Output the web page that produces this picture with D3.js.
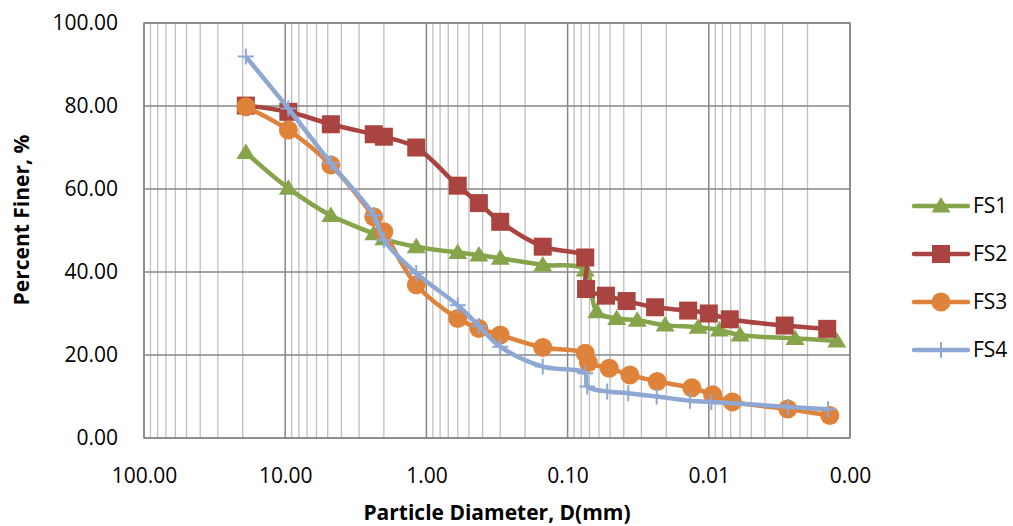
<!DOCTYPE html>
<html>
<head>
<meta charset="utf-8">
<script src="https://cdn.jsdelivr.net/npm/d3@7"></script>
<style>
  body { margin: 0; background: #fff; }
  text { font-family: "Open Sans", sans-serif; fill: #000; }
</style>
</head>
<body>
<div id="chart"></div>
<script>
// sieve + hydrometer results, particle size in mm, percent finer
const seriesNames = ["FS1", "FS2", "FS3", "FS4"];

const fs1D = [19, 9.5, 4.75, 2.36, 2.0, 1.18, 0.6, 0.425, 0.3, 0.15, 0.075, 0.0622, 0.0449, 0.0321, 0.0204, 0.0119, 0.0084, 0.0060, 0.00245, 0.00124];
const fs1P = [68.8, 60.2, 53.6, 49.2, 48.0, 46.1, 44.7, 44.1, 43.3, 41.7, 40.5, 30.4, 28.8, 28.4, 27.2, 26.7, 26.0, 24.8, 24.0, 23.4];

const fs2D = [19, 9.5, 4.75, 2.36, 2.0, 1.18, 0.6, 0.425, 0.3, 0.15, 0.075, 0.074, 0.0535, 0.0382, 0.0240, 0.0140, 0.0100, 0.0071, 0.0029, 0.00145];
const fs2P = [80.1, 78.6, 75.6, 73.2, 72.6, 70.0, 60.8, 56.6, 52.1, 46.1, 43.5, 35.9, 34.3, 33.0, 31.5, 30.7, 30.0, 28.6, 27.1, 26.3];

const fs3D = [19, 9.5, 4.75, 2.36, 2.0, 1.18, 0.6, 0.425, 0.3, 0.15, 0.075, 0.0713, 0.0507, 0.0362, 0.0232, 0.0132, 0.0094, 0.0068, 0.00276, 0.00139];
const fs3P = [79.8, 74.2, 65.8, 53.3, 49.7, 36.9, 28.8, 26.4, 24.8, 21.8, 20.4, 18.2, 16.8, 15.2, 13.6, 12.1, 10.4, 8.7, 7.0, 5.4];

const fs4D = [19, 9.5, 4.75, 2.36, 2.0, 1.18, 0.6, 0.425, 0.3, 0.15, 0.075, 0.0726, 0.0524, 0.0372, 0.0234, 0.0136, 0.0096, 0.00276, 0.00143];
const fs4P = [91.9, 79.4, 66.2, 53.7, 47.7, 39.7, 32.0, 27.0, 22.0, 17.2, 15.6, 12.4, 11.2, 10.8, 10.0, 9.0, 8.7, 7.5, 6.9];

const xTicks = [100, 10, 1, 0.1, 0.01, 0.001];
const yTicks = [0, 20, 40, 60, 80, 100];

const colours = ["#86A44A", "#A94441", "#DF823A", "#8EA8D3"];
const markers = ["triangle", "square", "circle", "cross"];

const w = 1013, h = 526;
const m = { top: 23, right: 163, bottom: 88, left: 144 };

const svg = d3.select("#chart").append("svg")
  .attr("width", w).attr("height", h)
  .style("background", "white");

// log scale, reversed (coarse on the left)
const x = d3.scaleLog().domain([100, 0.001]).range([m.left, w - m.right]);
const y = d3.scaleLinear().domain([0, 100]).range([h - m.bottom, m.top]);

// minor gridlines for each decade
let minor = [];
for (let e = -3; e < 2; e++) {
  for (let k = 2; k <= 9; k++) minor.push(k * Math.pow(10, e));
}

svg.append("g")
  .selectAll("line")
  .data(minor)
  .join("line")
  .attr("x1", d => x(d)).attr("x2", d => x(d))
  .attr("y1", m.top).attr("y2", h - m.bottom)
  .attr("stroke", "#BFBFBF").attr("stroke-width", 1.3);

svg.append("g")
  .selectAll("line")
  .data(xTicks)
  .join("line")
  .attr("x1", d => x(d)).attr("x2", d => x(d))
  .attr("y1", m.top).attr("y2", h - m.bottom)
  .attr("stroke", "#878787").attr("stroke-width", 1.5);

svg.append("g")
  .selectAll("line")
  .data(yTicks)
  .join("line")
  .attr("x1", m.left).attr("x2", w - m.right)
  .attr("y1", d => y(d)).attr("y2", d => y(d))
  .attr("stroke", "#878787").attr("stroke-width", 1.5);

// plot border
svg.append("rect")
  .attr("x", m.left).attr("y", m.top)
  .attr("width", w - m.right - m.left).attr("height", h - m.bottom - m.top)
  .attr("fill", "none").attr("stroke", "#878787").attr("stroke-width", 1.5);

// axes (labels only, grid drawn above)
const xAxis = svg.append("g")
  .attr("transform", `translate(0,${h - m.bottom})`)
  .call(d3.axisBottom(x).tickValues(xTicks).tickFormat(d3.format(".2f")).tickSize(0).tickPadding(30));
xAxis.select(".domain").remove();
xAxis.selectAll("text").attr("font-size", 21).attr("font-family", "Open Sans").attr("fill", "#000");

const yAxis = svg.append("g")
  .attr("transform", `translate(${m.left},0)`)
  .call(d3.axisLeft(y).tickValues(yTicks).tickFormat(d3.format(".2f")).tickSize(0).tickPadding(26));
yAxis.select(".domain").remove();
yAxis.selectAll("text").attr("font-size", 21).attr("font-family", "Open Sans").attr("fill", "#000");

// axis titles
svg.append("text")
  .attr("x", 497).attr("y", 513)
  .attr("dy", "0.35em")
  .attr("text-anchor", "middle")
  .attr("font-size", 21).attr("font-weight", "bold")
  .text("Particle Diameter, D(mm)");

svg.append("text")
  .attr("transform", "translate(29,220)rotate(-90)")
  .attr("text-anchor", "middle")
  .attr("font-size", 21).attr("font-weight", "bold")
  .text("Percent Finer, %");

const series = [
  { name: seriesNames[0], D: fs1D, P: fs1P },
  { name: seriesNames[1], D: fs2D, P: fs2P },
  { name: seriesNames[2], D: fs3D, P: fs3P },
  { name: seriesNames[3], D: fs4D, P: fs4P },
];

const line = d3.line()
  .x(d => x(d[0]))
  .y(d => y(d[1]))
  .curve(d3.curveCatmullRom.alpha(0.5));

function drawMarker(g, type, colour) {
  if (type === "triangle") {
    g.append("path").attr("d", "M0,-9L9.5,6.5L-9.5,6.5Z").attr("fill", colour);
  } else if (type === "square") {
    g.append("rect").attr("x", -9).attr("y", -9).attr("width", 18).attr("height", 18).attr("fill", colour);
  } else if (type === "circle") {
    g.append("circle").attr("r", 9.5).attr("fill", colour);
  } else {
    g.append("path").attr("d", "M-8,0H8M0,-8V8")
      .attr("stroke", colour).attr("stroke-width", 2).attr("fill", "none");
  }
}

series.forEach((s, i) => {
  const pts = s.D.map((d, j) => [d, s.P[j]]);
  const g = svg.append("g").attr("class", "series");
  g.append("path")
    .datum(pts)
    .attr("d", line)
    .attr("fill", "none")
    .attr("stroke", colours[i])
    .attr("stroke-width", 4.5)
    .attr("stroke-linejoin", "round");
  g.selectAll("g.mk")
    .data(pts)
    .join("g")
    .attr("class", "mk")
    .attr("transform", d => `translate(${x(d[0])},${y(d[1])})`)
    .each(function() { drawMarker(d3.select(this), markers[i], colours[i]); });
});

// legend
const legend = svg.append("g");
series.forEach((s, i) => {
  const ly = 206 + i * 48;
  const lg = legend.append("g").attr("transform", `translate(941,${ly})`);
  lg.append("line").attr("x1", -27).attr("x2", 27)
    .attr("stroke", colours[i]).attr("stroke-width", 4.5).attr("stroke-linecap", "round");
  drawMarker(lg, markers[i], colours[i]);
  legend.append("text")
    .attr("x", 973).attr("y", ly).attr("dy", "0.35em")
    .attr("font-size", 21)
    .text(s.name);
});
</script>
</body>
</html>
